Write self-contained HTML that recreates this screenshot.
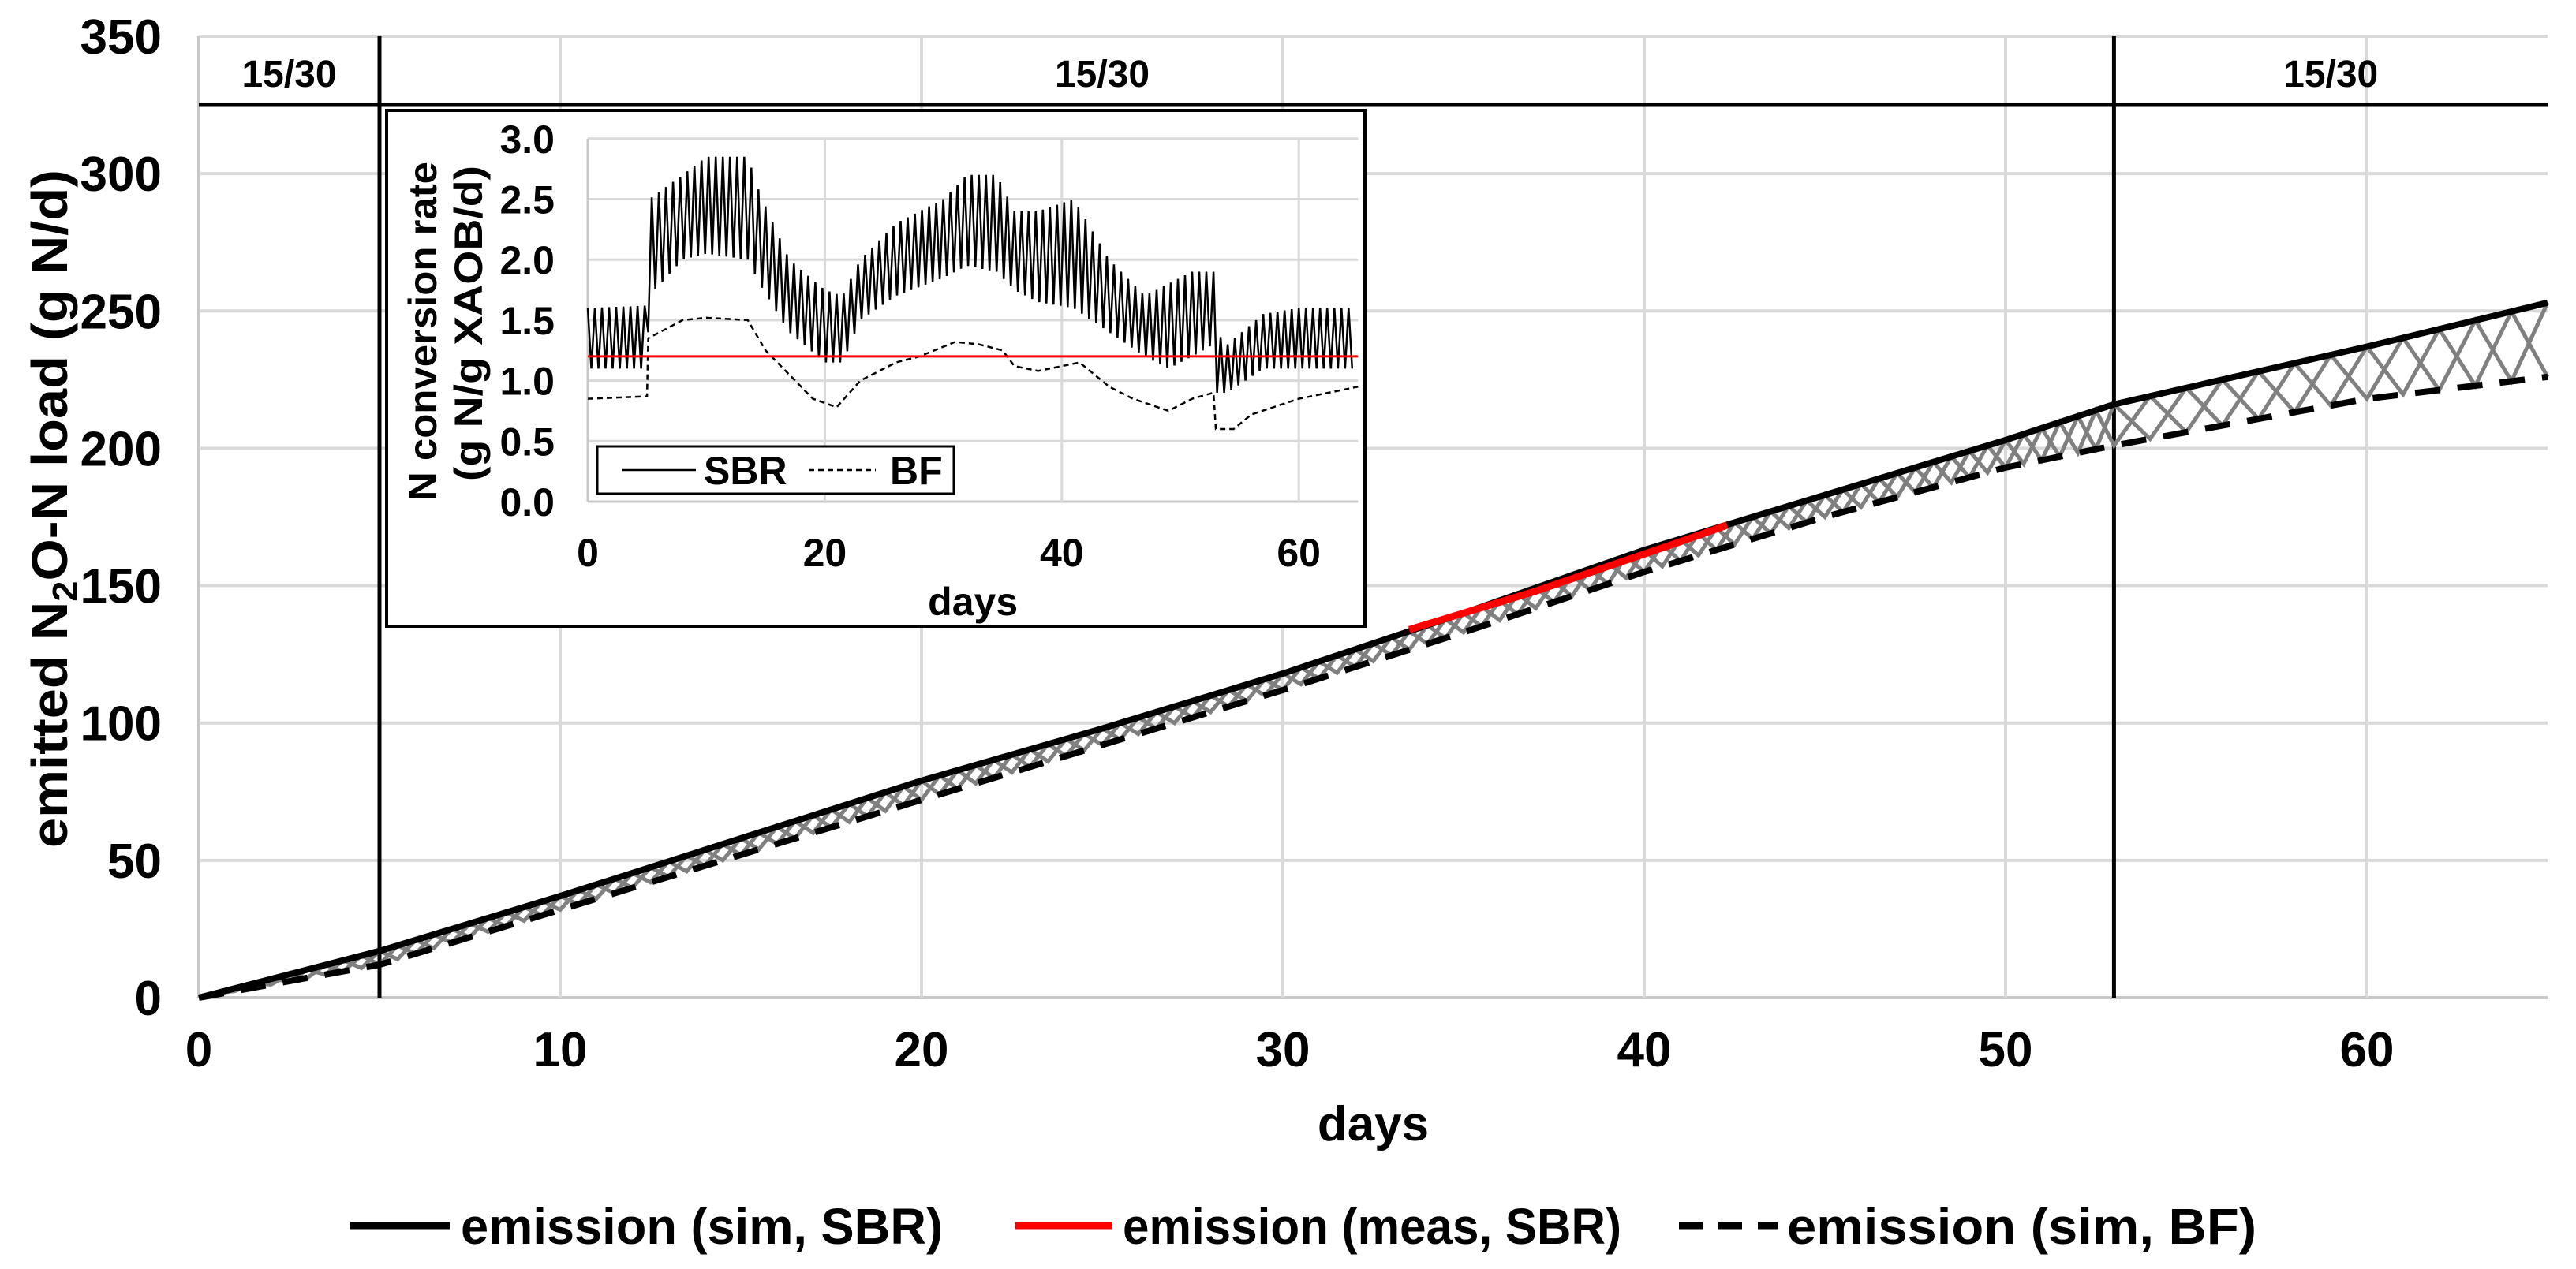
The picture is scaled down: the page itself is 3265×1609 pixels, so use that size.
<!DOCTYPE html>
<html><head><meta charset="utf-8"><style>
html,body{margin:0;padding:0;background:#fff;}
svg{display:block;}
text{font-family:"Liberation Sans Narrow","Liberation Sans",sans-serif;font-weight:bold;fill:#000;}
</style></head><body>
<svg id="chart" width="3265" height="1609" viewBox="0 0 3265 1609" xmlns="http://www.w3.org/2000/svg">
<g id="main"></g>
<g id="inset"></g>
</svg>
<script>
// ---- main chart data ----
const mainDays = [0, 5, 10, 15, 20, 25, 30, 35, 40, 45, 50, 53, 60, 65];
const sbrEmission = [0, 17, 37, 58, 79, 98, 118, 140, 163, 183, 203, 216, 237, 253];
const bfEmission = [0, 12, 32, 52, 72, 92, 112, 133, 155, 175, 193, 201, 218, 226];
const measDays = [33.5, 35, 37, 39, 41, 42.3];
const measEmission = [134, 140, 148, 157, 166, 172];
const yTicks = [0, 50, 100, 150, 200, 250, 300, 350];
const xTicks = [0, 10, 20, 30, 40, 50, 60];
const phaseBounds = [5, 53];
const phaseLabels = ["15/30", "15/30", "15/30"];
const phaseLabelDays = [2.5, 25, 59];

// ---- inset data ----
const insetDays = [0, 5, 5.2, 8, 10, 13.5, 14.5, 17, 20, 21.5, 23, 26, 30, 32, 34.5, 36, 38, 41, 44, 47, 49, 51, 52.8, 53, 54, 57, 60, 64.6];
const sbrUpper = [1.6, 1.62, 2.5, 2.7, 2.85, 2.85, 2.55, 2.0, 1.75, 1.7, 2.0, 2.3, 2.5, 2.7, 2.7, 2.4, 2.4, 2.5, 2.0, 1.7, 1.8, 1.9, 1.9, 1.4, 1.3, 1.55, 1.6, 1.6];
const sbrLower = [1.1, 1.1, 1.7, 2.0, 2.05, 2.0, 1.8, 1.4, 1.15, 1.15, 1.5, 1.7, 1.85, 1.95, 1.9, 1.75, 1.65, 1.6, 1.4, 1.2, 1.1, 1.2, 1.3, 0.9, 0.9, 1.1, 1.1, 1.1];
const bfDays = [0, 5, 5.1, 8, 10, 13.5, 15, 17, 19, 21, 23, 26, 28, 31, 33, 35, 36, 38, 40, 41.5, 44, 46, 49, 51, 52.8, 53, 54.5, 56, 60, 65];
const bfRate = [0.85, 0.87, 1.35, 1.5, 1.52, 1.5, 1.25, 1.05, 0.85, 0.78, 1.0, 1.15, 1.2, 1.32, 1.3, 1.25, 1.12, 1.08, 1.12, 1.15, 0.95, 0.85, 0.75, 0.85, 0.9, 0.6, 0.6, 0.72, 0.85, 0.95];
const refRate = 1.2;
const insetYTicks = [0, 0.5, 1.0, 1.5, 2.0, 2.5, 3.0];
const insetXTicks = [0, 20, 40, 60];

const NS = "http://www.w3.org/2000/svg";
function mk(parent, tag, attrs, txt){
  const e = document.createElementNS(NS, tag);
  for (const k in attrs) e.setAttribute(k, attrs[k]);
  if (txt !== undefined) e.textContent = txt;
  parent.appendChild(e);
  return e;
}
function interp(xs, ys, x){
  if (x <= xs[0]) return ys[0];
  for (let i = 1; i < xs.length; i++){
    if (x <= xs[i]) { const t = (x - xs[i-1]) / (xs[i] - xs[i-1]); return ys[i-1] + t * (ys[i] - ys[i-1]); }
  }
  return ys[ys.length-1];
}

// ---- main axes ----
const X0 = 252, PXD = 45.8, Y0 = 1265, PXU = 3.483;
const xs = d => X0 + d * PXD;
const ys = v => Y0 - v * PXU;
const main = document.getElementById("main");

yTicks.forEach(v => {
  const l = mk(main, "line", {x1: xs(0), x2: xs(65), y1: ys(v), y2: ys(v), stroke: v === 0 ? "#c8c8c8" : "#d9d9d9", "stroke-width": 4});
  
  
  const t = mk(main, "text", {x: 205, y: ys(v) + 22, "text-anchor": "end", "font-size": 62}, String(v));
  
  
});
xTicks.forEach(d => {
  const l = mk(main, "line", {x1: xs(d), x2: xs(d), y1: ys(350), y2: ys(0), stroke: d === 0 ? "#c8c8c8" : "#d9d9d9", "stroke-width": 4});
  
  
  const t = mk(main, "text", {x: xs(d), y: 1352, "text-anchor": "middle", "font-size": 62}, String(d));
  
  
});
// phase lines
const hl = mk(main, "line", {x1: xs(0), x2: xs(65), y1: ys(325), y2: ys(325), stroke: "#000", "stroke-width": 5});


phaseBounds.forEach(d => {
  const l = mk(main, "line", {x1: xs(d), x2: xs(d), y1: ys(350), y2: ys(0), stroke: "#000", "stroke-width": 5});
  
  
});
phaseLabels.forEach((s, i) => {
  const t = mk(main, "text", {x: xs(phaseLabelDays[i]), y: 110, "text-anchor": "middle", "font-size": 48}, s);
  
  
});

// two out-of-phase zigzags (grey) forming X shapes
for (let ph = 0; ph < 2; ph++) {
  let zz = [];
  let k = ph;
  for (let d = 0; d <= 65.001; ) {
    const v = (k % 2 === 0) ? interp(mainDays, sbrEmission, d) : interp(mainDays, bfEmission, d);
    zz.push(xs(d).toFixed(1) + "," + ys(v).toFixed(1));
    d += (d < 53 ? 0.5 : 1); k++;
  }
  const pz = mk(main, "polyline", {points: zz.join(" "), fill: "none", stroke: "#808080", "stroke-width": 5});
  
  
}

const pBF = mk(main, "polyline", {points: mainDays.map((d, i) => xs(d) + "," + ys(bfEmission[i])).join(" "), fill: "none", stroke: "#000", "stroke-width": 8, "stroke-dasharray": "32,22"});


const pS = mk(main, "polyline", {points: mainDays.map((d, i) => xs(d) + "," + ys(sbrEmission[i])).join(" "), fill: "none", stroke: "#000", "stroke-width": 8});


const pM = mk(main, "polyline", {points: measDays.map((d, i) => xs(d) + "," + ys(measEmission[i])).join(" "), fill: "none", stroke: "#ff0000", "stroke-width": 9});



// titles
const xt = mk(main, "text", {x: xs(32.5), y: 1446, "text-anchor": "middle", "font-size": 62}, "days");


const yt = mk(main, "text", {x: 0, y: 0, "text-anchor": "middle", "font-size": 64, textLength: 860, lengthAdjust: "spacingAndGlyphs", transform: "translate(85,645) rotate(-90)"});


yt.innerHTML = 'emitted N<tspan font-size="44" dy="12">2</tspan><tspan dy="-12">O-N load (g N/d)</tspan>';

// legend
const legend = [
  {x1: 444, x2: 570, tx: 584, tl: 611, label: "emission (sim, SBR)", color: "#000", dash: "", name: "legend-entry-sim-sbr"},
  {x1: 1287, x2: 1410, tx: 1423, tl: 632, label: "emission (meas, SBR)", color: "#ff0000", dash: "", name: "legend-entry-meas-sbr"},
  {x1: 2128, x2: 2253, tx: 2265, tl: 595, label: "emission (sim, BF)", color: "#000", dash: "30,20", name: "legend-entry-sim-bf"}
];
legend.forEach(e => {
  const g = mk(main, "g", {});
  
  
  mk(g, "line", {x1: e.x1, x2: e.x2, y1: 1554, y2: 1554, stroke: e.color, "stroke-width": 9, "stroke-dasharray": e.dash});
  mk(g, "text", {x: e.tx, y: 1577, "font-size": 64, textLength: e.tl, lengthAdjust: "spacingAndGlyphs"}, e.label);
});

// ---- inset ----
const inset = document.getElementById("inset");
const IX0 = 745, IPXD = 15.02, IY0 = 636, IPXU = 153.4;
const ix = d => IX0 + d * IPXD;
const iy = v => IY0 - v * IPXU;
const ib = mk(inset, "rect", {x: 490, y: 140, width: 1240, height: 654, fill: "#fff", stroke: "#000", "stroke-width": 4});


insetYTicks.forEach(v => {
  const l = mk(inset, "line", {x1: ix(0), x2: ix(65), y1: iy(v), y2: iy(v), stroke: v === 0 ? "#c8c8c8" : "#d9d9d9", "stroke-width": 3});
  
  
  const t = mk(inset, "text", {x: 703, y: iy(v) + 18, "text-anchor": "end", "font-size": 50}, v.toFixed(1));
  
  
});
insetXTicks.forEach(d => {
  const l = mk(inset, "line", {x1: ix(d), x2: ix(d), y1: iy(3), y2: iy(0), stroke: d === 0 ? "#c8c8c8" : "#d9d9d9", "stroke-width": 3});
  
  
  const t = mk(inset, "text", {x: ix(d), y: 718, "text-anchor": "middle", "font-size": 50}, String(d));
  
  
});
// SBR oscillation between envelopes
let sp = [];
let j = 0;
for (let d = 0; d <= 64.6; d += 0.3) {
  const v = (j % 2 === 0) ? interp(insetDays, sbrUpper, d) : interp(insetDays, sbrLower, d);
  sp.push(ix(d).toFixed(1) + "," + iy(v).toFixed(1));
  j++;
}
const isb = mk(inset, "polyline", {points: sp.join(" "), fill: "none", stroke: "#000", "stroke-width": 2.5});


const ibf = mk(inset, "polyline", {points: bfDays.map((d, i) => ix(d) + "," + iy(bfRate[i])).join(" "), fill: "none", stroke: "#000", "stroke-width": 2.5, "stroke-dasharray": "7,5"});


const iref = mk(inset, "line", {x1: ix(0), x2: ix(65), y1: iy(refRate), y2: iy(refRate), stroke: "#ff0000", "stroke-width": 3});


// inset legend
const ilg = mk(inset, "g", {});


mk(ilg, "rect", {x: 757, y: 566, width: 452, height: 60, fill: "#fff", stroke: "#000", "stroke-width": 3});
mk(ilg, "line", {x1: 788, x2: 882, y1: 596, y2: 596, stroke: "#000", "stroke-width": 2.5});
mk(ilg, "text", {x: 892, y: 614, "font-size": 50}, "SBR");
mk(ilg, "line", {x1: 1025, x2: 1110, y1: 596, y2: 596, stroke: "#000", "stroke-width": 2.5, "stroke-dasharray": "7,5"});
mk(ilg, "text", {x: 1128, y: 614, "font-size": 50}, "BF");
// inset titles
const ixt = mk(inset, "text", {x: ix(32.5), y: 780, "text-anchor": "middle", "font-size": 50}, "days");


const iyt1 = mk(inset, "text", {x: 0, y: 0, "text-anchor": "middle", "font-size": 50, textLength: 430, lengthAdjust: "spacingAndGlyphs", transform: "translate(553,420) rotate(-90)"}, "N conversion rate");


const iyt2 = mk(inset, "text", {x: 0, y: 0, "text-anchor": "middle", "font-size": 50, textLength: 400, lengthAdjust: "spacingAndGlyphs", transform: "translate(611,410) rotate(-90)"}, "(g N/g XAOB/d)");


</script>
</body></html>
